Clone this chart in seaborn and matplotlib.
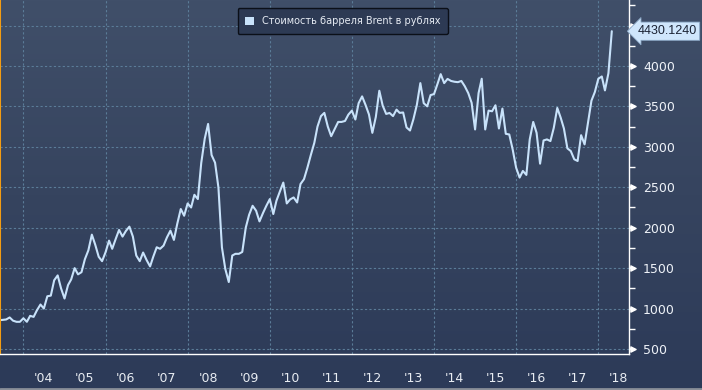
import matplotlib
matplotlib.use("Agg")
import matplotlib.pyplot as plt
import matplotlib.dates as mdates
import matplotlib.transforms as mtransforms
from matplotlib.colors import LinearSegmentedColormap
import numpy as np
import pandas as pd
import seaborn as sns

# monthly Brent price in rubles, June 2003 .. May 2018
start_month = "2003-06-01"
brent_rub = [
    857, 860, 865, 890, 850, 836, 836,                                  # 2003
    880, 836, 910, 897, 980, 1050, 1000, 1152, 1160, 1350, 1410, 1250,  # 2004
    1124, 1290, 1360, 1500, 1423, 1450, 1610, 1720, 1914, 1790, 1640, 1586,  # 2005
    1697, 1840, 1739, 1860, 1972, 1890, 1960, 2013, 1890, 1656, 1586, 1693,  # 2006
    1600, 1521, 1640, 1758, 1739, 1779, 1880, 1964, 1849, 2050, 2231, 2148,  # 2007
    2300, 2250, 2407, 2354, 2800, 3100, 3283, 2899, 2804, 2496, 1758, 1490,  # 2008
    1328, 1656, 1677, 1677, 1700, 2000, 2160, 2271, 2210, 2078, 2180, 2270,  # 2009
    2354, 2169, 2333, 2450, 2558, 2300, 2350, 2374, 2312, 2540, 2600, 2740,  # 2010
    2900, 3050, 3250, 3380, 3420, 3250, 3132, 3220, 3308, 3308, 3320, 3399,  # 2011
    3448, 3338, 3540, 3624, 3520, 3400, 3173, 3370, 3694, 3510, 3407, 3419,  # 2012
    3380, 3460, 3420, 3425, 3240, 3202, 3340, 3520, 3788, 3540, 3501, 3640,  # 2013
    3653, 3780, 3899, 3788, 3840, 3815, 3805, 3800, 3815, 3750, 3665, 3545,  # 2014
    3215, 3665, 3842, 3215, 3448, 3440, 3514, 3227, 3473, 3161, 3153, 2969,  # 2015
    2742, 2620, 2702, 2653, 3092, 3308, 3173, 2792, 3079, 3092, 3071, 3235,  # 2016
    3481, 3358, 3227, 2981, 2948, 2846, 2825, 3144, 3030, 3300, 3571, 3677,  # 2017
    3842, 3870, 3698, 3911, 4430.124,                                   # 2018
]
years = list(range(2004, 2019))
year_labels = ["'%02d" % (y % 100) for y in years]
y_ticks = [500, 1000, 1500, 2000, 2500, 3000, 3500, 4000, 4500]
legend_label = "Стоимость барреля Brent в рублях"
last_label = "4430.1240"

dates = pd.date_range(start_month, periods=len(brent_rub), freq="MS")
df = pd.DataFrame({"date": dates, "value": brent_rub})

sns.set_style("dark")
plt.rcParams["font.family"] = ["DejaVu Sans"]

fig = plt.figure(figsize=(7.02, 3.9), dpi=100)

# background gradient over the whole figure
bg = fig.add_axes([0, 0, 1, 1], zorder=0)
grad = np.linspace(0, 1, 256).reshape(-1, 1)
cmap = LinearSegmentedColormap.from_list("bg", ["#404f69", "#36445f", "#2c3a58"])
bg.imshow(grad, aspect="auto", cmap=cmap, extent=[0, 1, 0, 1])
bg.set_axis_off()

ax = fig.add_axes([0.0, 36 / 390, 629 / 702, 354 / 390], zorder=1)
ax.set_facecolor("none")

sns.lineplot(data=df, x="date", y="value", ax=ax, color="#c8e2fa", linewidth=1.5,
             legend=False)

ax.set_xlim(pd.Timestamp("2003-06-07"), pd.Timestamp("2018-10-01"))
ax.set_ylim(438, 4816)

# grid every two years / every 500
for y in y_ticks:
    ax.axhline(y, color="#5b7c98", linestyle=(0, (2, 2)), linewidth=0.8, zorder=0)
for yr in years[::2]:
    ax.axvline(pd.Timestamp(f"{yr}-01-01"), color="#5b7c98", linestyle=(0, (2, 2)),
               linewidth=0.8, zorder=0)
ax.grid(False)

# x axis: year separators as long ticks, labels centred mid-year
ax.set_xticks([mdates.date2num(pd.Timestamp(f"{y}-01-01")) for y in years])
ax.set_xticklabels([])
ax.set_xticks([mdates.date2num(pd.Timestamp(f"{y}-07-01")) for y in years], minor=True)
ax.set_xticklabels(year_labels, minor=True)
ax.tick_params(axis="x", which="major", length=24, width=1, color="#c8ccd4", direction="out")
ax.tick_params(axis="x", which="minor", length=0, pad=13, labelsize=9, labelcolor="#e8ecf2")

# y axis on the right
ax.yaxis.tick_right()
ax.set_yticks(y_ticks)
ax.set_yticklabels([str(v) for v in y_ticks])
ax.set_yticks([v + 250 for v in y_ticks], minor=True)
ax.tick_params(axis="y", which="major", length=4, width=1.2, color="white", pad=6,
               labelsize=9, labelcolor="#eef2f8", direction="out")
ax.tick_params(axis="y", which="minor", length=4, width=1, color="white", direction="out")
trans = mtransforms.blended_transform_factory(ax.transAxes, ax.transData)
ax.scatter([1.006] * len(y_ticks), y_ticks, marker=">", s=14, color="white",
           transform=trans, clip_on=False, zorder=5)

ax.set_xlabel("")
ax.set_ylabel("")
ax.spines["top"].set_visible(False)
ax.spines["left"].set_color("#f39c12")
ax.spines["left"].set_linewidth(1.5)
ax.spines["right"].set_color("white")
ax.spines["bottom"].set_color("white")
ax.spines["right"].set_linewidth(1)
ax.spines["bottom"].set_linewidth(1)

# last value callout (covers most of the 4500 label, as in the original)
ax.annotate(last_label, xy=(1.0, brent_rub[-1]), xycoords=trans,
            xytext=(6, 0), textcoords="offset points", va="center", ha="left",
            fontsize=9, family="Liberation Sans", color="#1a2233",
            annotation_clip=False, zorder=10,
            bbox=dict(boxstyle="larrow,pad=0.25", fc="#cfe6fc", ec="#8aa6c4", lw=0.6))

# legend
leg = ax.legend(loc="upper center", bbox_to_anchor=(0.545, 0.99), frameon=True,
                fontsize=7, handlelength=0.9, handleheight=0.9, borderpad=0.8,
                handles=[plt.Rectangle((0, 0), 1, 1, fc="#c8e2fa", ec="none")],
                labels=[legend_label], fancybox=True)
leg.get_frame().set_facecolor("#2d3a54")
leg.get_frame().set_edgecolor("#0b0f18")
leg.get_frame().set_linewidth(1)
leg.get_frame().set_alpha(1)
for t in leg.get_texts():
    t.set_color("#e6ebf3")

# bottom border
fig.add_artist(plt.Line2D([0, 1], [1.5 / 390, 1.5 / 390], transform=fig.transFigure,
                          color="#8a8f98", linewidth=2))

fig.savefig("out.png", dpi=100)
